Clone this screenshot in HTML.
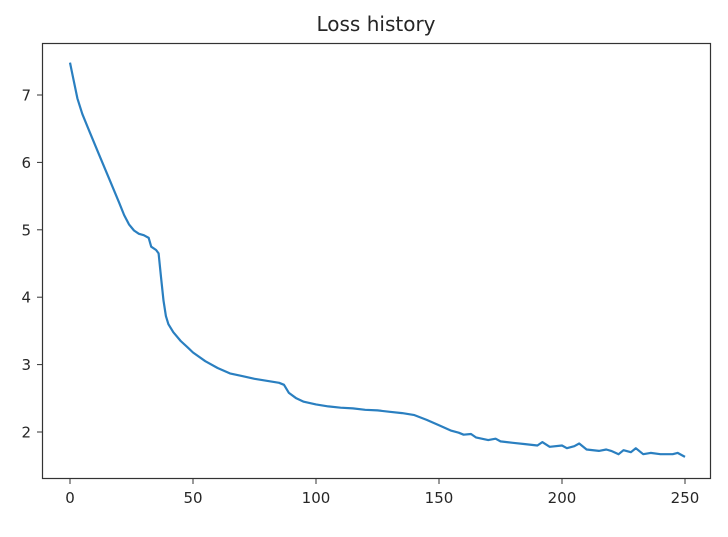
<!DOCTYPE html>
<html><head><meta charset="utf-8"><style>
body{margin:0;background:#fff;width:728px;height:532px;overflow:hidden}
svg text{font-family:"DejaVu Sans","Liberation Sans",sans-serif;fill:#262626}
</style></head><body>
<svg id="chart" width="728" height="532" xmlns="http://www.w3.org/2000/svg">
<text x="376" y="31" font-size="20" text-anchor="middle">Loss history</text>
<g id="axes"></g>
<path id="line" fill="none" stroke="#2a7fc0" stroke-width="2.2" stroke-linejoin="round"/>
<rect x="42.5" y="43.5" width="668" height="435" fill="none" stroke="#333" stroke-width="1.2"/>
</svg>
<script>
const epochs=[0,1,3,5,8,12,16,20,22,24,26,28,30,32,33,35,36,37,38,39,40,42,45,48,50,55,60,65,70,75,80,85,87,89,92,95,100,105,110,115,120,125,130,135,140,145,150,155,158,160,163,165,170,173,175,180,185,190,192,195,200,202,205,207,210,215,218,220,223,225,228,230,233,236,240,245,247,250];
const losses=[7.48,7.3,6.95,6.72,6.45,6.1,5.75,5.4,5.22,5.08,4.99,4.94,4.92,4.88,4.75,4.7,4.65,4.3,3.95,3.72,3.6,3.48,3.35,3.25,3.18,3.05,2.95,2.87,2.83,2.79,2.76,2.73,2.7,2.58,2.5,2.45,2.41,2.38,2.36,2.35,2.33,2.32,2.3,2.28,2.25,2.18,2.1,2.02,1.99,1.96,1.97,1.92,1.88,1.9,1.86,1.84,1.82,1.8,1.85,1.78,1.8,1.76,1.79,1.83,1.74,1.72,1.74,1.72,1.67,1.73,1.7,1.76,1.67,1.69,1.67,1.67,1.69,1.63];
const xTicks=[0,50,100,150,200,250];
const yTicks=[2,3,4,5,6,7];
const X=v=>70+v*(685-70)/250;
const Y=v=>432-(v-2)*(432-95)/5;
const ns="http://www.w3.org/2000/svg";
const g=document.getElementById('axes');
xTicks.forEach(t=>{
 const l=document.createElementNS(ns,'line');
 
 
 l.setAttribute('x1',X(t));l.setAttribute('x2',X(t));l.setAttribute('y1',478.5);l.setAttribute('y2',484);l.setAttribute('stroke','#333');g.appendChild(l);
 const s=document.createElementNS(ns,'text');
 
 
 s.setAttribute('x',X(t));s.setAttribute('y',503);s.setAttribute('font-size','15');s.setAttribute('text-anchor','middle');s.textContent=t;g.appendChild(s);
});
yTicks.forEach(t=>{
 const l=document.createElementNS(ns,'line');
 
 
 l.setAttribute('x1',37);l.setAttribute('x2',42.5);l.setAttribute('y1',Y(t));l.setAttribute('y2',Y(t));l.setAttribute('stroke','#333');g.appendChild(l);
 const s=document.createElementNS(ns,'text');
 
 
 s.setAttribute('x',31);s.setAttribute('y',Y(t)+5.5);s.setAttribute('font-size','15');s.setAttribute('text-anchor','end');s.textContent=t;g.appendChild(s);
});
document.getElementById('line').setAttribute('d',epochs.map((e,i)=>(i?'L':'M')+X(e).toFixed(1)+','+Y(losses[i]).toFixed(1)).join(''));
</script>
</body></html>
